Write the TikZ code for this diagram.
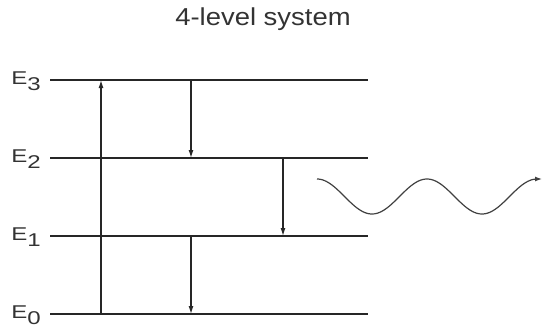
\documentclass[tikz,border=0pt]{standalone}
\usepackage{fontspec}
\setmainfont{Liberation Sans}
\usetikzlibrary{arrows.meta}
\begin{document}
\begin{tikzpicture}[x=1pt,y=-1pt,
  level/.style={line width=1.4pt, draw=black!85},
  trans/.style={line width=1.2pt, draw=black!85, -{Latex[length=8pt,width=5pt]}},
  elabel/.style={anchor=base east, font=\fontsize{18.5}{20}\selectfont, text=black!80, inner sep=0pt},
  wave/.style={line width=1.2pt, draw=black!75, -{Latex[length=7pt,width=5pt]}}]
\useasboundingbox (0,0) rectangle (544,327);
\node[anchor=base, inner sep=0pt, font=\fontsize{24.5}{26}\selectfont, text=black!80] (title) at (263,25) {\scalebox{1.12}[1]{4-level system}};
% level end points
\foreach \n/\y in {3/80,2/158,1/236,0/314}{
  \coordinate (L\n) at (50,\y);
  \coordinate (R\n) at (368,\y);
  \node[elabel] (E\n) at (41,\y+4) {\scalebox{1.3}[1]{E\raisebox{-6pt}{\n}}};
  \draw[level] (L\n) -- (R\n);
}
% transition points
\coordinate (u0) at (101,314); \coordinate (u3) at (101,80);
\coordinate (a3) at (191,80);  \coordinate (a2) at (191,158);
\coordinate (b2) at (283,158); \coordinate (b1) at (283,236);
\coordinate (c1) at (191,236); \coordinate (c0) at (191,314);
\draw[trans] (u0) -- (u3);
\draw[trans] (a3) -- (a2);
\draw[trans] (b2) -- (b1);
\draw[trans] (c1) -- (c0);
% emitted photon
\coordinate (w0) at (317,179);
\draw[wave] plot[domain=0:220, samples=120, smooth] ({317+\x},{196.5-17.5*cos(\x*3.272727)}) -- ++(5,0);
\end{tikzpicture}
\end{document}
